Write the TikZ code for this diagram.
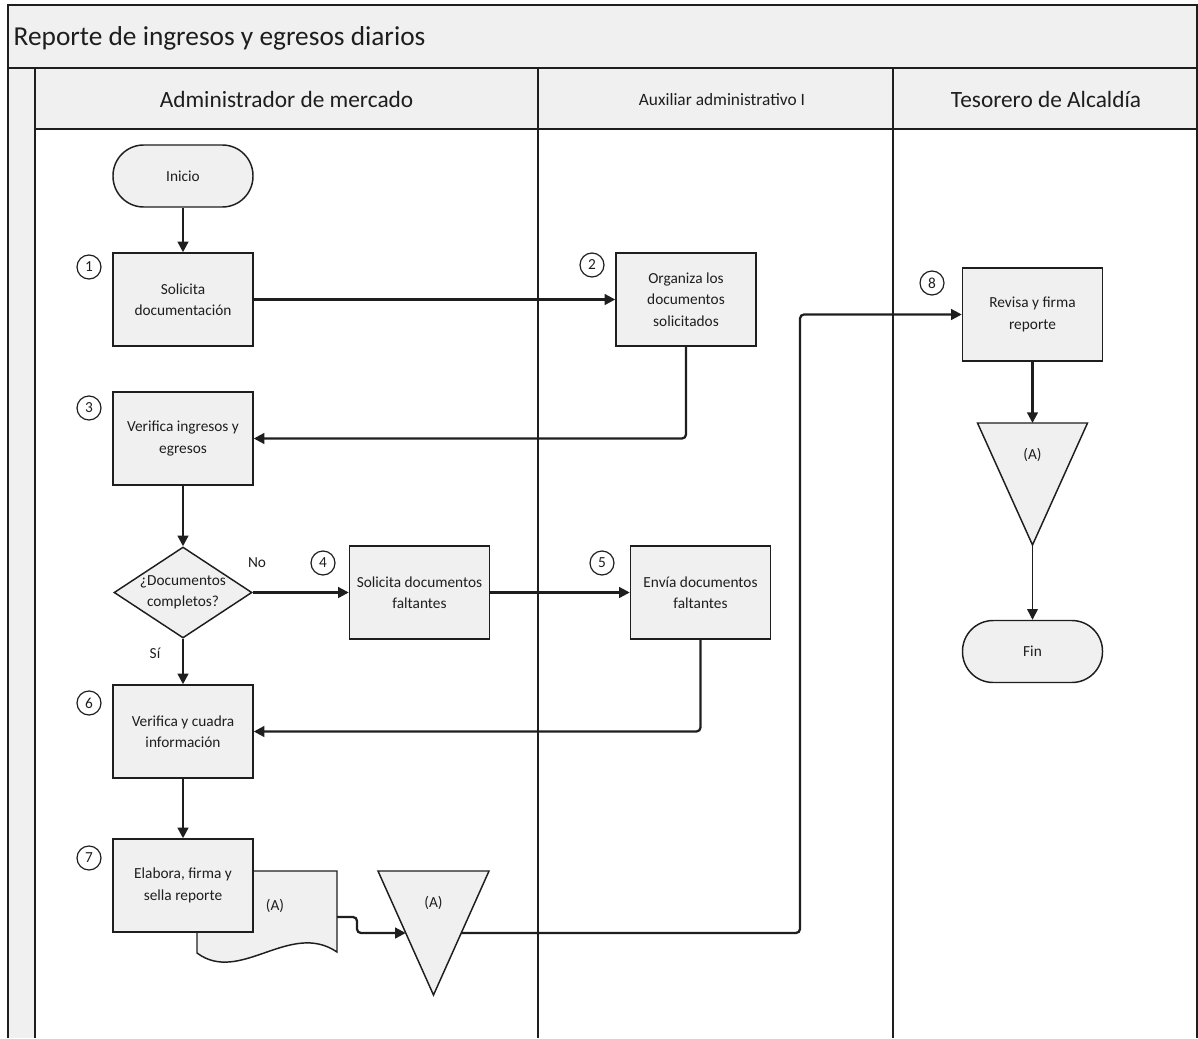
\documentclass[tikz,border=0pt]{standalone}
\usepackage{fontspec}
\setmainfont{Carlito}
\usetikzlibrary{arrows.meta,shapes.geometric,calc}

\definecolor{shade}{HTML}{F0F0F0}
\definecolor{ink}{HTML}{1E1E1E}

\newcommand\txtbox{\fontsize{11.5}{16}\selectfont}

\tikzset{
  proc/.style={draw=ink, fill=shade, line width=1.1pt, minimum width=105pt,
    minimum height=69.75pt, align=center, inner sep=2pt, font=\txtbox, text=ink},
  term/.style={proc, rounded corners=23pt, minimum height=46.5pt},
  decide/.style={draw=ink, fill=shade, line width=1.1pt, diamond, aspect=1.5,
    minimum width=103.5pt, minimum height=68.25pt, inner sep=0pt, align=center,
    font=\txtbox, text=ink},
  num/.style={draw=ink, circle, line width=0.9pt, minimum size=18pt, inner sep=0pt,
    font=\txtbox, text=ink},
  lbl/.style={font=\txtbox, text=ink},
  conn/.style={draw=ink, line width=1.7pt, rounded corners=3pt,
    -{Triangle[length=8pt,width=8pt]}},
  shapeline/.style={draw=ink, fill=shade, line width=1.1pt},
  laneline/.style={draw=ink, line width=1.3pt},
}

\begin{document}
\begin{tikzpicture}[x=0.75pt,y=-0.75pt]
\useasboundingbox (0,0) rectangle (1198,1038);

% frame: title band, side strip, lane headers and lane dividers
\path[fill=shade] (8,5) rectangle (1197,68);
\path[fill=shade] (8,68) rectangle (35,1038);
\path[fill=shade] (35,68) rectangle (1197,129);
\draw[laneline, line width=1.6pt] (8,1038) -- (8,5) -- (1197,5) -- (1197,1038);
\draw[laneline, line width=1.6pt] (8,68) -- (1197,68);
\draw[laneline, line width=1.6pt] (35,68) -- (35,1038);
\draw[laneline] (35,129) -- (1197,129);
\draw[laneline] (538,68) -- (538,1038);
\draw[laneline] (893,68) -- (893,1038);

\node[anchor=west, font=\fontsize{20.5}{24}\selectfont, text=ink] (title) at (9,38)
  {Reporte de ingresos y egresos diarios};
\node[font=\fontsize{17.5}{21}\selectfont, text=ink] (lane1) at (286.5,99) {Administrador de mercado};
\node[font=\fontsize{13}{16}\selectfont, text=ink] (lane2) at (722,100) {Auxiliar administrativo I};
\node[font=\fontsize{17.5}{21}\selectfont, text=ink] (lane3) at (1046,99) {Tesorero de Alcaldía};

% process steps
\node[term] (ini) at (183,176) {Inicio};
\node[proc] (s1) at (183,299.5) {Solicita\\documentación};
\node[proc] (s2) at (686,299.5) {Organiza los\\documentos\\solicitados};
\node[proc] (s3) at (183,438.5) {Verifica ingresos y\\egresos};
\node[decide] (dec) at (183,592.5) {¿Documentos\\completos?};
\node[proc] (s4) at (419.5,592.5) {Solicita documentos\\faltantes};
\node[proc] (s5) at (700.5,592.5) {Envía documentos\\faltantes};
\node[proc] (s6) at (183,731.5) {Verifica y cuadra\\información};

% document produced in step 7
\path[shapeline] (197,871) -- (337,871) -- (337,952)
  .. controls (290,920) and (240,985) .. (197,953) -- cycle;
\node[lbl] (docA) at (275,906) {(A)};
\coordinate (docR) at (337,917);
\node[proc] (s7) at (183,885.5) {Elabora, firma y\\sella reporte};

% off-page connector (A) in lane 1
\coordinate (t1a) at (378,871);
\coordinate (t1b) at (489,871);
\coordinate (t1c) at (433.5,995);
\path[shapeline] (t1a) -- (t1b) -- (t1c) -- cycle;
\node[lbl] (t1text) at (433.5,903) {(A)};
\coordinate (t1L) at ($(t1a)!0.5!(t1c)$);
\coordinate (t1R) at ($(t1b)!0.5!(t1c)$);
\coordinate (bend) at (800,620);

\node[proc] (s8) at (1032.5,314.5) {Revisa y firma\\reporte};

% off-page connector (A) in lane 3
\coordinate (t2a) at (977.5,423);
\coordinate (t2b) at (1087.5,423);
\coordinate (t2c) at (1032.5,545);
\path[shapeline] (t2a) -- (t2b) -- (t2c) -- cycle;
\node[lbl] (t2text) at (1032.5,455) {(A)};
\coordinate (t2top) at ($(t2a)!0.5!(t2b)$);

\node[term] (fin) at (1032.5,651.5) {Fin};

% step numbers
\node[num] (n1) at (89,267) {1};
\node[num] (n2) at (592,265) {2};
\node[num] (n3) at (89,408) {3};
\node[num] (n4) at (323,563) {4};
\node[num] (n5) at (602,563) {5};
\node[num] (n6) at (89,703) {6};
\node[num] (n7) at (89,858) {7};
\node[num] (n8) at (932,283) {8};

% decision labels
\node[lbl] (no) at (257,563) {No};
\node[lbl] (si) at (155,653) {Sí};

% flow
\draw[conn] (ini) -- (s1);
\draw[conn] (s1.east) -- (s2.west);
\draw[conn] (s2.south) |- (s3.east);
\draw[conn] (s3) -- (dec);
\draw[conn] (dec.east) -- (s4.west);
\draw[conn] (s4.east) -- (s5.west);
\draw[conn] (dec.south) -- (s6.north);
\draw[conn] (s5.south) |- (s6.east);
\draw[conn] (s6) -- (s7);
\draw[conn] (docR) -- ++(20,0) |- (t1L);
\draw[conn] (t1R) -- (t1R -| bend) -- (bend |- s8.west) -- (s8.west);
\draw[conn] (s8) -- (t2top);
\draw[conn, line width=1.1pt] (t2c) -- (fin);
\end{tikzpicture}
\end{document}
